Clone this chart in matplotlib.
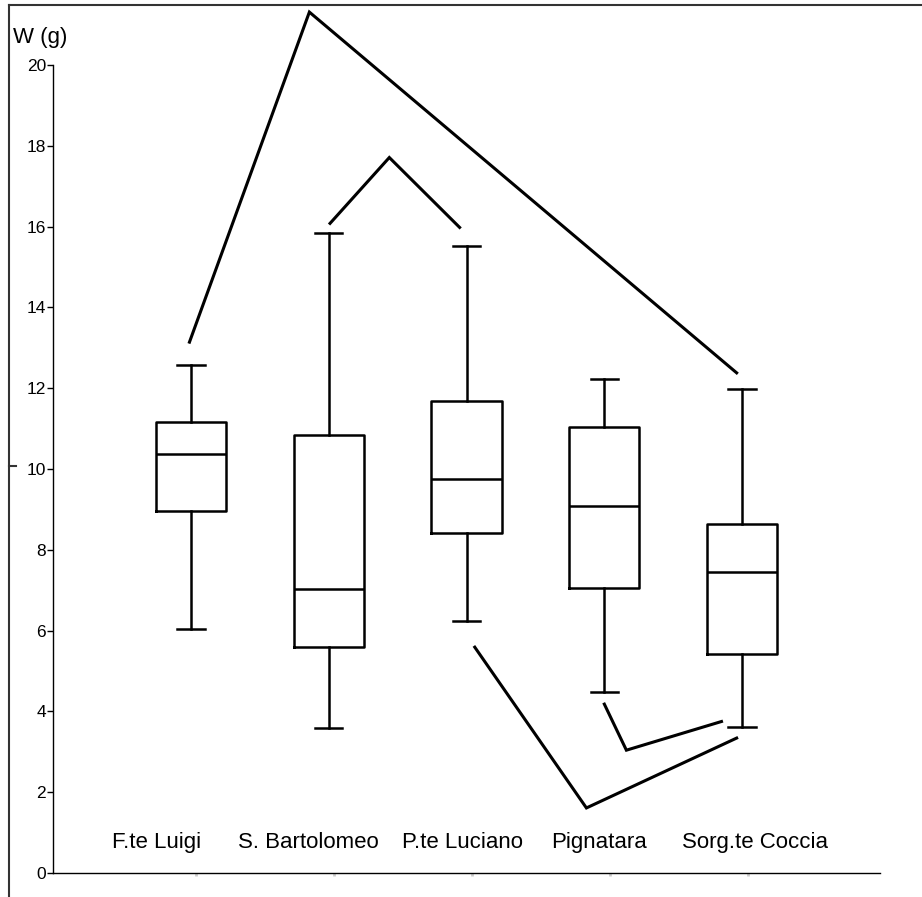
import matplotlib
matplotlib.use('Agg')
import matplotlib.pyplot as plt
from matplotlib.lines import Line2D

plt.rcParams['font.family'] = ['Liberation Sans', 'DejaVu Sans']

# box statistics (weight in g)
sites = ['F.te Luigi', 'S. Bartolomeo', 'P.te Luciano', 'Pignatara', 'Sorg.te Coccia']
whislo = [6.03, 3.58, 6.24, 4.49, 3.62]
q1 = [8.96, 5.59, 8.42, 7.05, 5.42]
med = [10.36, 7.02, 9.76, 9.09, 7.45]
q3 = [11.17, 10.84, 11.69, 11.05, 8.65]
whishi = [12.58, 15.83, 15.52, 12.23, 11.99]

# significance brackets (x in group position units, y in g)
bracket_x = [[0.99, 1.86, 4.96], [2.01, 2.44, 2.95], [3.06, 3.87, 4.96], [4.00, 4.16, 4.85]]
bracket_y = [[13.14, 21.31, 12.38], [16.08, 17.71, 15.98], [5.59, 1.61, 3.34], [4.18, 3.04, 3.75]]

yticks = [0, 2, 4, 6, 8, 10, 12, 14, 16, 18, 20]

positions = [1, 2, 3, 4, 5]
label_x = [0.75, 1.85, 2.97, 3.96, 5.09]

fig = plt.figure(figsize=(9.22, 8.97), dpi=100)
ax = fig.add_axes([53/922, 24/897, 827/922, 808/897])

stats = []
for i, s in enumerate(sites):
    stats.append({'label': s, 'whislo': whislo[i], 'q1': q1[i], 'med': med[i],
                  'q3': q3[i], 'whishi': whishi[i], 'fliers': []})

ax.bxp(stats, positions=positions, widths=0.51, capwidths=0.2, showfliers=False,
       boxprops=dict(color='black', linewidth=1.8),
       medianprops=dict(color='black', linewidth=1.8),
       whiskerprops=dict(color='black', linewidth=1.8),
       capprops=dict(color='black', linewidth=1.8))

for bx, by in zip(bracket_x, bracket_y):
    ax.plot(bx, by, color='black', linewidth=2.2, clip_on=False, solid_joinstyle='miter')

for x, s in zip(label_x, sites):
    ax.text(x, 0.62, s, ha='center', va='baseline', fontsize=16)

ax.set_xlim(0, 6)
ax.set_ylim(0, 20)
ax.set_yticks(yticks)
ax.set_yticklabels([str(t) for t in yticks], fontsize=12.5)
ax.set_xticks([p + 0.04 for p in positions])
ax.set_xticklabels([])
ax.tick_params(axis='y', direction='out', length=4, width=1, pad=1)
ax.tick_params(axis='x', direction='out', length=2.5, width=2, color='#cccccc')
ax.spines['top'].set_visible(False)
ax.spines['right'].set_visible(False)
ax.spines['left'].set_linewidth(1)
ax.spines['bottom'].set_linewidth(1)

fig.text(13/922, 1 - 43.5/897, 'W (g)', fontsize=16, ha='left', va='baseline')

# frame of the original scan
fig.add_artist(Line2D([8.5/922, 8.5/922], [0, 1 - 5.5/897], color='#333333', linewidth=1.5))
fig.add_artist(Line2D([8.5/922, 1], [1 - 5.5/897, 1 - 5.5/897], color='#333333', linewidth=1.5))
fig.add_artist(Line2D([8.5/922, 16/922], [1 - 466/897, 1 - 466/897], color='#333333', linewidth=1.5))

fig.savefig('out.png', dpi=100)
